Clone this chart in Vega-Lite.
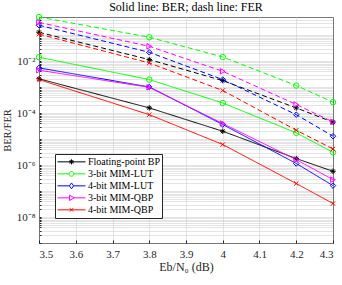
{
  "$schema": "https://vega.github.io/schema/vega-lite/v6.json",
  "width": 294,
  "height": 226,
  "autosize": {"type": "none"},
  "padding": {"left": 39, "top": 17, "right": 9, "bottom": 42},
  "background": "white",
  "config": {
    "view": {"stroke": "#262626", "strokeWidth": 1},
    "font": "Liberation Serif"
  },
  "title": {"text": "Solid line: BER; dash line: FER", "font": "Liberation Serif", "fontSize": 12, "fontWeight": "normal", "color": "#000000", "offset": 3, "dy": 6, "frame": "group", "anchor": "middle"},
  "data": {"values": [
    {"snr": 3.5, "series": "Floating-point BP", "metric": "BER", "value": 0.00209},
    {"snr": 3.8, "series": "Floating-point BP", "metric": "BER", "value": 0.0001585},
    {"snr": 4.0, "series": "Floating-point BP", "metric": "BER", "value": 0.00002},
    {"snr": 4.2, "series": "Floating-point BP", "metric": "BER", "value": 0.00000178},
    {"snr": 4.3, "series": "Floating-point BP", "metric": "BER", "value": 0.000000575},
    {"snr": 3.5, "series": "Floating-point BP", "metric": "FER", "value": 0.129},
    {"snr": 3.8, "series": "Floating-point BP", "metric": "FER", "value": 0.01148},
    {"snr": 4.0, "series": "Floating-point BP", "metric": "FER", "value": 0.00178},
    {"snr": 4.2, "series": "Floating-point BP", "metric": "FER", "value": 0.0001585},
    {"snr": 4.3, "series": "Floating-point BP", "metric": "FER", "value": 0.0000447},
    {"snr": 3.5, "series": "3-bit MIM-LUT", "metric": "BER", "value": 0.01413},
    {"snr": 3.8, "series": "3-bit MIM-LUT", "metric": "BER", "value": 0.00195},
    {"snr": 4.0, "series": "3-bit MIM-LUT", "metric": "BER", "value": 0.000245},
    {"snr": 4.2, "series": "3-bit MIM-LUT", "metric": "BER", "value": 0.0000174},
    {"snr": 4.3, "series": "3-bit MIM-LUT", "metric": "BER", "value": 0.00000309},
    {"snr": 3.5, "series": "3-bit MIM-LUT", "metric": "FER", "value": 0.5},
    {"snr": 3.8, "series": "3-bit MIM-LUT", "metric": "FER", "value": 0.0832},
    {"snr": 4.0, "series": "3-bit MIM-LUT", "metric": "FER", "value": 0.01445},
    {"snr": 4.2, "series": "3-bit MIM-LUT", "metric": "FER", "value": 0.00115},
    {"snr": 4.3, "series": "3-bit MIM-LUT", "metric": "FER", "value": 0.000263},
    {"snr": 3.5, "series": "4-bit MIM-LUT", "metric": "BER", "value": 0.0055},
    {"snr": 3.8, "series": "4-bit MIM-LUT", "metric": "BER", "value": 0.00102},
    {"snr": 4.0, "series": "4-bit MIM-LUT", "metric": "BER", "value": 0.0000363},
    {"snr": 4.2, "series": "4-bit MIM-LUT", "metric": "BER", "value": 0.00000115},
    {"snr": 4.3, "series": "4-bit MIM-LUT", "metric": "BER", "value": 0.000000162},
    {"snr": 3.5, "series": "4-bit MIM-LUT", "metric": "FER", "value": 0.24},
    {"snr": 3.8, "series": "4-bit MIM-LUT", "metric": "FER", "value": 0.0219},
    {"snr": 4.0, "series": "4-bit MIM-LUT", "metric": "FER", "value": 0.00195},
    {"snr": 4.2, "series": "4-bit MIM-LUT", "metric": "FER", "value": 0.000087},
    {"snr": 4.3, "series": "4-bit MIM-LUT", "metric": "FER", "value": 0.0000129},
    {"snr": 3.5, "series": "3-bit MIM-QBP", "metric": "BER", "value": 0.00447},
    {"snr": 3.8, "series": "3-bit MIM-QBP", "metric": "BER", "value": 0.00098},
    {"snr": 4.0, "series": "3-bit MIM-QBP", "metric": "BER", "value": 0.0000398},
    {"snr": 4.2, "series": "3-bit MIM-QBP", "metric": "BER", "value": 0.00000162},
    {"snr": 4.3, "series": "3-bit MIM-QBP", "metric": "BER", "value": 0.000000275},
    {"snr": 3.5, "series": "3-bit MIM-QBP", "metric": "FER", "value": 0.309},
    {"snr": 3.8, "series": "3-bit MIM-QBP", "metric": "FER", "value": 0.0372},
    {"snr": 4.0, "series": "3-bit MIM-QBP", "metric": "FER", "value": 0.00407},
    {"snr": 4.2, "series": "3-bit MIM-QBP", "metric": "FER", "value": 0.000214},
    {"snr": 4.3, "series": "3-bit MIM-QBP", "metric": "FER", "value": 0.0000457},
    {"snr": 3.5, "series": "4-bit MIM-QBP", "metric": "BER", "value": 0.00195},
    {"snr": 3.8, "series": "4-bit MIM-QBP", "metric": "BER", "value": 0.000087},
    {"snr": 4.0, "series": "4-bit MIM-QBP", "metric": "BER", "value": 0.00000617},
    {"snr": 4.2, "series": "4-bit MIM-QBP", "metric": "BER", "value": 0.000000195},
    {"snr": 4.3, "series": "4-bit MIM-QBP", "metric": "BER", "value": 0.0000000331},
    {"snr": 3.5, "series": "4-bit MIM-QBP", "metric": "FER", "value": 0.11},
    {"snr": 3.8, "series": "4-bit MIM-QBP", "metric": "FER", "value": 0.0085},
    {"snr": 4.0, "series": "4-bit MIM-QBP", "metric": "FER", "value": 0.00074},
    {"snr": 4.2, "series": "4-bit MIM-QBP", "metric": "FER", "value": 0.0000219},
    {"snr": 4.3, "series": "4-bit MIM-QBP", "metric": "FER", "value": 0.00000417}
  ]},
  "encoding": {
    "x": {
      "field": "snr", "type": "quantitative",
      "scale": {"domain": [3.5, 4.3], "nice": false, "zero": false},
      "axis": {
        "values": [3.5, 3.6, 3.7, 3.8, 3.9, 4, 4.1, 4.2, 4.3],
        "format": ".2~f",
        "labelFont": "Liberation Serif", "labelFontSize": 11, "labelColor": "#262626",
        "labelPadding": 8,
        "domain": false, "ticks": true, "tickSize": -3, "tickColor": "#262626",
        "grid": true, "gridColor": "#c8c8c8", "gridDash": [1, 1], "gridWidth": 1,
        "title": "Eb/N₀ (dB)", "titleFont": "Liberation Serif", "titleFontSize": 12, "titleFontWeight": "normal", "titleColor": "#262626", "titlePadding": 2
      }
    },
    "y": {
      "field": "value", "type": "quantitative",
      "scale": {"type": "log", "domain": [1e-9, 0.5], "nice": false},
      "axis": {
        "values": [1e-9, 2e-9, 3e-9, 4e-9, 5e-9, 6e-9, 7e-9, 8e-9, 9e-9,
                   1e-8, 2e-8, 3e-8, 4e-8, 5e-8, 6e-8, 7e-8, 8e-8, 9e-8,
                   1e-7, 2e-7, 3e-7, 4e-7, 5e-7, 6e-7, 7e-7, 8e-7, 9e-7,
                   1e-6, 2e-6, 3e-6, 4e-6, 5e-6, 6e-6, 7e-6, 8e-6, 9e-6,
                   1e-5, 2e-5, 3e-5, 4e-5, 5e-5, 6e-5, 7e-5, 8e-5, 9e-5,
                   1e-4, 2e-4, 3e-4, 4e-4, 5e-4, 6e-4, 7e-4, 8e-4, 9e-4,
                   0.001, 0.002, 0.003, 0.004, 0.005, 0.006, 0.007, 0.008, 0.009,
                   0.01, 0.02, 0.03, 0.04, 0.05, 0.06, 0.07, 0.08, 0.09,
                   0.1, 0.2, 0.3, 0.4, 0.5],
        "labelExpr": "datum.value == 0.01 ? '10⁻²' : datum.value == 0.0001 ? '10⁻⁴' : datum.value == 0.000001 ? '10⁻⁶' : datum.value == 0.00000001 ? '10⁻⁸' : ''",
        "labelOverlap": false, "labelBound": false,
        "labelFont": "Liberation Serif", "labelFontSize": 11, "labelColor": "#262626",
        "labelPadding": 6,
        "domain": false, "ticks": true, "tickSize": -2, "tickColor": "#262626",
        "grid": true, "gridColor": "#c8c8c8", "gridDash": [1, 1], "gridWidth": 1,
        "title": "BER/FER", "titleFont": "Liberation Serif", "titleFontSize": 10.5, "titleFontWeight": "normal", "titleColor": "#262626", "titlePadding": 4
      }
    },
    "color": {
      "field": "series", "type": "nominal",
      "scale": {
        "domain": ["Floating-point BP", "3-bit MIM-LUT", "4-bit MIM-LUT", "3-bit MIM-QBP", "4-bit MIM-QBP"],
        "range": ["#000000", "#00ff00", "#0000ff", "#ff00ff", "#ff0000"]
      },
      "legend": {
        "title": null,
        "orient": "none", "legendX": 16, "legendY": 137,
        "strokeColor": "#262626", "fillColor": "white", "padding": 2,
        "labelFont": "Liberation Serif", "labelFontSize": 10, "labelColor": "#000000", "labelOffset": 2,
        "rowPadding": 0, "symbolSize": 784, "clipHeight": 11.7, "symbolStrokeWidth": 1,
        "symbolFillColor": "transparent"
      }
    }
  },
  "layer": [
    {
      "mark": {"type": "line", "strokeWidth": 1},
      "encoding": {
        "strokeDash": {
          "field": "metric", "type": "nominal",
          "scale": {"domain": ["BER", "FER"], "range": [[1, 0], [5, 3]]},
          "legend": null
        }
      }
    },
    {
      "mark": {"type": "point", "filled": false, "size": 30, "strokeWidth": 1, "opacity": 1},
      "encoding": {
        "shape": {
          "condition": [
            {"test": "datum.series === 'Floating-point BP'", "value": "M-1,0L1,0M0,-1L0,1M-0.7,-0.7L0.7,0.7M-0.7,0.7L0.7,-0.7"},
            {"test": "datum.series === '3-bit MIM-LUT'", "value": "circle"},
            {"test": "datum.series === '4-bit MIM-LUT'", "value": "diamond"},
            {"test": "datum.series === '3-bit MIM-QBP'", "value": "triangle-right"}
          ],
          "value": "M-0.8,-0.8L0.8,0.8M-0.8,0.8L0.8,-0.8"
        }
      }
    },
    {
      "transform": [{"filter": "datum.value < 0"}],
      "mark": {"type": "point", "filled": false, "strokeWidth": 1, "opacity": 1},
      "encoding": {
        "shape": {
          "field": "series", "type": "nominal",
          "scale": {
            "domain": ["Floating-point BP", "3-bit MIM-LUT", "4-bit MIM-LUT", "3-bit MIM-QBP", "4-bit MIM-QBP"],
            "range": [
              "M-1,0L1,0M-0.18,0L0.18,0M0,-0.18L0,0.18M-0.13,-0.13L0.13,0.13M-0.13,0.13L0.13,-0.13",
              "M-1,0L-0.17,0M0.17,0L1,0M-0.17,0A0.17,0.17,0,1,1,0.17,0A0.17,0.17,0,1,1,-0.17,0Z",
              "M-1,0L-0.15,0M0.15,0L1,0M0,-0.21L0.15,0L0,0.21L-0.15,0Z",
              "M-1,0L-0.14,0M0.2,0L1,0M-0.14,-0.19L0.2,0L-0.14,0.19Z",
              "M-1,0L1,0M-0.12,-0.12L0.12,0.12M-0.12,0.12L0.12,-0.12"
            ]
          },
          "legend": null
        }
      }
    }
  ]
}
